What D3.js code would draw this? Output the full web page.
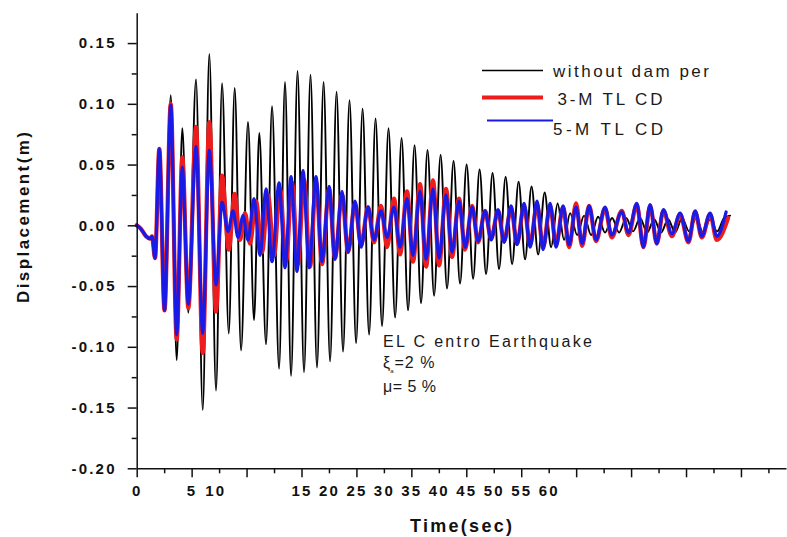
<!DOCTYPE html>
<html>
<head>
<meta charset="utf-8">
<script src="https://cdn.jsdelivr.net/npm/d3@7"></script>
<style>
  body { margin: 0; background: #fff; }
  svg { display: block; font-family: Arial, "Liberation Sans", sans-serif; }
</style>
</head>
<body>
<svg id="chart" width="787" height="537"></svg>
<script>
// Turning points of each displacement history: [time (s), displacement (m)]
const startSegment = [
  [0, 0], [0.39, -0.003], [0.85, -0.009], [1.21, -0.011], [1.39, -0.009],
  [1.67, -0.027], [2.06, 0.063], [2.53, -0.070]
];

const withoutDamper = [
  [3.10, 0.107], [3.64, -0.111], [4.15, 0.080], [4.70, -0.072], [5.40, 0.120],
  [6.01, -0.152], [6.61, 0.141], [7.22, -0.136], [7.77, 0.117], [8.38, -0.089],
  [8.92, 0.113], [9.50, -0.103], [10.13, 0.085], [10.68, -0.078], [11.16, 0.076],
  [11.77, -0.098], [12.32, 0.098], [12.96, -0.118], [13.50, 0.118], [14.05, -0.124],
  [14.64, 0.127], [15.23, -0.121], [15.82, 0.124], [16.41, -0.117], [17.01, 0.118],
  [17.60, -0.112], [18.19, 0.110], [18.78, -0.104], [19.37, 0.103], [19.97, -0.097],
  [20.56, 0.096], [21.15, -0.090], [21.74, 0.088], [22.33, -0.083], [22.92, 0.080],
  [23.52, -0.076], [24.11, 0.072], [24.70, -0.070], [25.29, 0.066], [25.88, -0.064],
  [26.47, 0.062], [27.07, -0.058], [27.66, 0.058], [28.25, -0.052], [28.84, 0.053],
  [29.43, -0.048], [30.03, 0.050], [30.62, -0.044], [31.21, 0.046], [31.80, -0.040],
  [32.39, 0.043], [32.98, -0.036], [33.58, 0.040], [34.17, -0.032], [34.76, 0.036],
  [35.35, -0.028], [35.94, 0.032], [36.54, -0.024], [37.13, 0.027], [37.72, -0.018],
  [38.31, 0.018], [38.90, -0.012], [39.45, 0.010], [40.09, -0.008], [40.72, 0.008],
  [41.36, -0.008], [42.00, 0.007], [42.63, -0.006], [43.27, 0.006], [43.91, -0.006],
  [44.55, 0.006], [45.18, -0.005], [45.82, 0.006], [46.46, -0.006], [47.10, 0.005],
  [47.73, -0.006], [48.37, 0.005], [49.01, -0.006], [49.64, 0.006], [50.28, -0.005],
  [50.92, 0.006], [51.56, -0.006], [52.19, 0.005], [52.83, -0.005], [53.47, 0.006],
  [54.01, 0.008]
];

const tlcd3 = [
  [3.10, 0.100], [3.64, -0.094], [4.15, 0.056], [4.70, -0.068], [5.40, 0.081],
  [6.01, -0.105], [6.61, 0.085], [7.22, -0.071], [7.77, 0.041], [8.38, -0.020],
  [8.92, 0.026], [9.40, -0.012], [9.86, 0.010], [10.31, -0.015], [10.86, 0.020],
  [11.41, -0.022], [11.95, 0.025], [12.50, -0.025], [13.05, 0.030], [13.59, -0.030],
  [14.14, 0.035], [14.68, -0.032], [15.23, 0.038], [15.78, -0.034], [16.32, 0.036],
  [16.87, -0.032], [17.51, 0.030], [18.05, -0.027], [18.69, 0.025], [19.24, -0.022],
  [19.87, 0.018], [20.42, -0.016], [21.06, 0.015], [21.60, -0.014], [22.24, 0.016],
  [22.79, -0.018], [23.42, 0.022], [23.97, -0.024], [24.61, 0.028], [25.15, -0.030],
  [25.79, 0.034], [26.34, -0.034], [26.97, 0.037], [27.52, -0.033], [28.16, 0.030],
  [28.70, -0.026], [29.34, 0.022], [29.89, -0.020], [30.53, 0.016], [31.07, -0.014],
  [31.71, 0.012], [32.26, -0.011], [32.89, 0.012], [33.44, -0.013], [34.08, 0.014],
  [34.62, -0.015], [35.26, 0.016], [35.81, -0.016], [36.44, 0.017], [36.99, -0.018],
  [37.63, 0.016], [38.17, -0.016], [38.81, 0.015], [39.36, -0.018], [39.99, 0.018],
  [40.54, -0.017], [41.18, 0.016], [41.81, -0.013], [42.63, 0.014], [43.24, -0.010],
  [44.15, 0.012], [44.76, -0.008], [45.52, 0.017], [46.12, -0.018], [46.73, 0.016],
  [47.34, -0.015], [47.94, 0.012], [48.71, -0.009], [49.46, 0.009], [50.22, -0.014],
  [50.83, 0.011], [51.44, -0.010], [52.19, 0.009], [52.80, -0.012], [53.83, 0.006]
];

const tlcd5 = [
  [3.10, 0.099], [3.64, -0.090], [4.15, 0.048], [4.70, -0.065], [5.40, 0.065],
  [6.01, -0.089], [6.61, 0.062], [7.22, -0.049], [7.77, 0.019], [8.31, -0.005],
  [8.77, 0.012], [9.22, -0.010], [9.68, 0.008], [10.13, -0.012], [10.68, 0.022],
  [11.23, -0.025], [11.77, 0.030], [12.32, -0.030], [12.96, 0.035], [13.50, -0.035],
  [14.05, 0.040], [14.59, -0.038], [15.14, 0.045], [15.69, -0.035], [16.32, 0.040],
  [16.87, -0.030], [17.51, 0.032], [18.05, -0.028], [18.69, 0.028], [19.24, -0.022],
  [19.87, 0.020], [20.42, -0.018], [21.06, 0.015], [21.60, -0.012], [22.24, 0.012],
  [22.79, -0.010], [23.42, 0.015], [23.97, -0.018], [24.61, 0.022], [25.15, -0.025],
  [25.79, 0.028], [26.34, -0.028], [26.97, 0.030], [27.52, -0.027], [28.16, 0.025],
  [28.70, -0.022], [29.34, 0.020], [29.89, -0.018], [30.53, 0.015], [31.07, -0.013],
  [31.71, 0.012], [32.26, -0.012], [32.89, 0.013], [33.44, -0.014], [34.08, 0.016],
  [34.62, -0.016], [35.26, 0.018], [35.81, -0.018], [36.44, 0.020], [36.99, -0.020],
  [37.63, 0.018], [38.17, -0.018], [38.81, 0.016], [39.36, -0.016], [39.99, 0.015],
  [40.54, -0.015], [41.18, 0.016], [41.81, -0.012], [42.63, 0.015], [43.24, -0.008],
  [44.15, 0.011], [44.76, -0.006], [45.52, 0.018], [46.12, -0.018], [46.73, 0.017],
  [47.34, -0.015], [47.94, 0.013], [48.71, -0.007], [49.46, 0.010], [50.22, -0.013],
  [50.83, 0.012], [51.44, -0.009], [52.19, 0.010], [52.80, -0.009], [53.65, 0.011]
];

// Axis ticks
const xTicks = [0, 2.5, 5, 7.5, 10, 12.5, 15, 17.5, 20, 22.5, 25, 27.5, 30, 32.5,
                35, 37.5, 40, 42.5, 45, 47.5, 50, 52.5, 55, 57.5];
const xLabelValues = [0, 5, 7.15, 15, 17.5, 20, 22.5, 25, 27.5, 30, 32.5, 35, 37.5];
const xLabelText = ["0", "5", "10", "15", "20", "25", "30", "35", "40", "45", "50", "55", "60"];
const yMajorTicks = [-0.20, -0.15, -0.10, -0.05, 0.00, 0.05, 0.10, 0.15];
const yMinorTicks = [-0.175, -0.125, -0.075, -0.025, 0.025, 0.075, 0.125];

const seriesNames = ["without dam per", "3-M TL CD", "5-M TL CD"];
const seriesColors = ["#000000", "#ee1c1c", "#1a1ae6"];

const svg = d3.select("#chart");
const plotLeft = 136.7, plotRight = 786, plotTop = 12.7, plotBottom = 468.3;

const x = d3.scaleLinear().domain([0, 59.1]).range([plotLeft, plotRight]);
const y = d3.scaleLinear().domain([-0.2, 0.175]).range([plotBottom, plotTop]);

const line = d3.line()
  .x(d => x(d[0]))
  .y(d => y(d[1]))
  .curve(d3.curveMonotoneX);

const plot = svg.append("g");
const histories = [
  { data: startSegment.concat(withoutDamper), color: seriesColors[0], width: 1.9 },
  { data: startSegment.concat(tlcd3), color: seriesColors[1], width: 4.2 },
  { data: startSegment.concat(tlcd5), color: seriesColors[2], width: 3.2 }
];
plot.selectAll("path")
  .data(histories)
  .join("path")
  .attr("d", d => line(d.data))
  .attr("fill", "none")
  .attr("stroke", d => d.color)
  .attr("stroke-width", d => d.width)
  .attr("stroke-linejoin", "round")
  .attr("stroke-linecap", "round");

// Y axis: major ticks with labels, shorter minor ticks
const tickFont = g => g.selectAll("text")
  .attr("font-size", 15).attr("font-weight", "bold")
  .attr("letter-spacing", "2.2px").attr("fill", "#111");

svg.append("g").attr("transform", `translate(${plotLeft},0)`)
  .call(d3.axisLeft(y).tickValues(yMajorTicks).tickSize(9).tickSizeOuter(0)
    .tickPadding(11).tickFormat(d => d.toFixed(2)))
  .call(tickFont);
svg.append("g").attr("transform", `translate(${plotLeft},0)`)
  .call(d3.axisLeft(y).tickValues(yMinorTicks).tickSize(5).tickSizeOuter(0).tickFormat(""))
  .call(g => g.select(".domain").remove());

// X axis: alternating long and short ticks, labels placed separately
svg.append("g").attr("transform", `translate(0,${plotBottom})`)
  .call(d3.axisBottom(x).tickValues(xTicks).tickSize(9).tickSizeOuter(0).tickFormat(""))
  .call(g => g.selectAll(".tick line").attr("y2", (d, i) => i % 2 === 0 ? 9 : 5));
svg.append("g").attr("transform", `translate(0,${plotBottom})`)
  .call(d3.axisBottom(x).tickValues(xLabelValues).tickSize(0).tickPadding(17)
    .tickFormat((d, i) => xLabelText[i]))
  .call(g => g.select(".domain").remove())
  .call(tickFont);

svg.selectAll(".domain, .tick line").attr("stroke", "#111").attr("stroke-width", 1.5);

// Axis titles
svg.append("text")
  .attr("transform", "translate(23,217.5) rotate(-90)")
  .attr("text-anchor", "middle").attr("dy", "0.35em")
  .attr("font-size", 17).attr("font-weight", "bold").attr("fill", "#111")
  .attr("textLength", 171).attr("lengthAdjust", "spacing")
  .text("Displacement(m)");
svg.append("text")
  .attr("x", 461).attr("y", 532)
  .attr("text-anchor", "middle")
  .attr("font-size", 18).attr("font-weight", "bold").attr("fill", "#111")
  .attr("textLength", 102).attr("lengthAdjust", "spacing")
  .text("Time(sec)");

// Legend
const legendItems = [
  { name: seriesNames[0], color: seriesColors[0], width: 1.6, x1: 482, x2: 543, ly: 70.5, tx: 553, ty: 77, len: 156 },
  { name: seriesNames[1], color: seriesColors[1], width: 4.2, x1: 482, x2: 543, ly: 97.5, tx: 557.5, ty: 104.5, len: 105 },
  { name: seriesNames[2], color: seriesColors[2], width: 2, x1: 487, x2: 553, ly: 120.5, tx: 553, ty: 134.5, len: 110 }
];
const legend = svg.append("g");
legend.selectAll("line").data(legendItems).join("line")
  .attr("x1", d => d.x1).attr("x2", d => d.x2)
  .attr("y1", d => d.ly).attr("y2", d => d.ly)
  .attr("stroke", d => d.color).attr("stroke-width", d => d.width);
legend.selectAll("text").data(legendItems).join("text")
  .attr("x", d => d.tx).attr("y", d => d.ty)
  .attr("font-size", 17).attr("fill", "#1a1a1a")
  .attr("textLength", d => d.len).attr("lengthAdjust", "spacing")
  .text(d => d.name);

// Record and damper parameters
const note = svg.append("g").attr("fill", "#1a1a1a").attr("font-size", 16);
note.append("text").attr("x", 383).attr("y", 347)
  .attr("textLength", 209).attr("lengthAdjust", "spacing")
  .text("EL C entro Earthquake");
const xi = note.append("text").attr("x", 383).attr("y", 368);
xi.append("tspan").text("ξ");
xi.append("tspan").attr("font-size", 6).attr("dy", 5).text("a");
xi.append("tspan").attr("dy", -5).attr("dx", 1).attr("letter-spacing", "1px").text("=2 %");
note.append("text").attr("x", 383).attr("y", 392)
  .attr("letter-spacing", "0.5px").text("μ= 5 %");
</script>
</body>
</html>
